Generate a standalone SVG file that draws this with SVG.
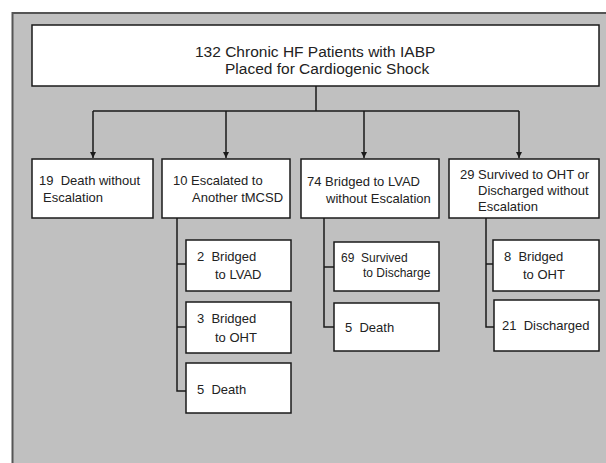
<svg xmlns="http://www.w3.org/2000/svg" width="606" height="463" viewBox="0 0 606 463">
<defs>
<style>
.box{fill:#fff;stroke:#1a1a1a;stroke-width:1.5}
.t{font-family:"Liberation Sans",Arial,sans-serif;font-size:13px;fill:#222}
.title{font-family:"Liberation Sans",Arial,sans-serif;font-size:15.5px;fill:#222}
.ln{fill:none;stroke:#1a1a1a;stroke-width:1.5}
</style>
<marker id="ah" viewBox="0 0 8 8" refX="8" refY="4" markerWidth="6" markerHeight="6" orient="auto" markerUnits="userSpaceOnUse">
<path d="M0,0 L8,4 L0,8 z" fill="#1a1a1a"/>
</marker>
</defs>
<rect x="12.5" y="13" width="620" height="470" fill="#c0c0c0" stroke="#555" stroke-width="2"/>
<g id="connectors">
<path class="ln" d="M316,86 V111 M93,111 H519"/>
<path class="ln" d="M93,111 V158" marker-end="url(#ah)"/>
<path class="ln" d="M226,111 V158" marker-end="url(#ah)"/>
<path class="ln" d="M364,111 V158" marker-end="url(#ah)"/>
<path class="ln" d="M519,111 V158" marker-end="url(#ah)"/>
<path class="ln" d="M177,218 V391 H186 M177,264 H186 M177,327 H186"/>
<path class="ln" d="M324,218 V327 H334 M324,267 H334"/>
<path class="ln" d="M486,218 V327 H494 M486,264 H493"/>
</g>
<g id="root">
<rect class="box" x="32" y="25" width="567" height="61"/>
<text class="title" x="195" y="57">132 Chronic HF Patients with IABP</text>
<text class="title" x="225" y="74">Placed for Cardiogenic Shock</text>
</g>
<g id="n19">
<rect class="box" x="32" y="159" width="121" height="59"/>
<text class="t" x="39" y="185" xml:space="preserve">19  Death without</text>
<text class="t" x="43" y="202">Escalation</text>
</g>
<g id="n10">
<rect class="box" x="162" y="159" width="128" height="59"/>
<text class="t" x="173" y="185">10 Escalated to</text>
<text class="t" x="192" y="202">Another tMCSD</text>
</g>
<g id="n74">
<rect class="box" x="301" y="159" width="138" height="59"/>
<text class="t" x="307" y="186">74 Bridged to LVAD</text>
<text class="t" x="326" y="203">without Escalation</text>
</g>
<g id="n29">
<rect class="box" x="449" y="159" width="150" height="59"/>
<text class="t" x="460" y="179">29 Survived to OHT or</text>
<text class="t" x="478" y="195">Discharged without</text>
<text class="t" x="478" y="211">Escalation</text>
</g>
<g id="n2">
<rect class="box" x="186" y="240" width="105" height="51"/>
<text class="t" x="197" y="261" xml:space="preserve">2  Bridged</text>
<text class="t" x="215" y="279">to LVAD</text>
</g>
<g id="n3">
<rect class="box" x="186" y="302" width="105" height="51"/>
<text class="t" x="197" y="323" xml:space="preserve">3  Bridged</text>
<text class="t" x="215" y="342">to OHT</text>
</g>
<g id="n5a">
<rect class="box" x="186" y="363" width="105" height="50"/>
<text class="t" x="197" y="394" xml:space="preserve">5  Death</text>
</g>
<g id="n69">
<rect class="box" x="334" y="242" width="105" height="49"/>
<text class="t" x="341" y="262" style="font-size:12px" xml:space="preserve">69  Survived</text>
<text class="t" x="363" y="277" style="font-size:12px">to Discharge</text>
</g>
<g id="n5b">
<rect class="box" x="334" y="303" width="105" height="48"/>
<text class="t" x="345" y="332" xml:space="preserve">5  Death</text>
</g>
<g id="n8">
<rect class="box" x="493" y="240" width="106" height="51"/>
<text class="t" x="504" y="261" xml:space="preserve">8  Bridged</text>
<text class="t" x="523" y="279">to OHT</text>
</g>
<g id="n21">
<rect class="box" x="494" y="300" width="105" height="51"/>
<text class="t" x="502" y="330" xml:space="preserve">21  Discharged</text>
</g>
</svg>
